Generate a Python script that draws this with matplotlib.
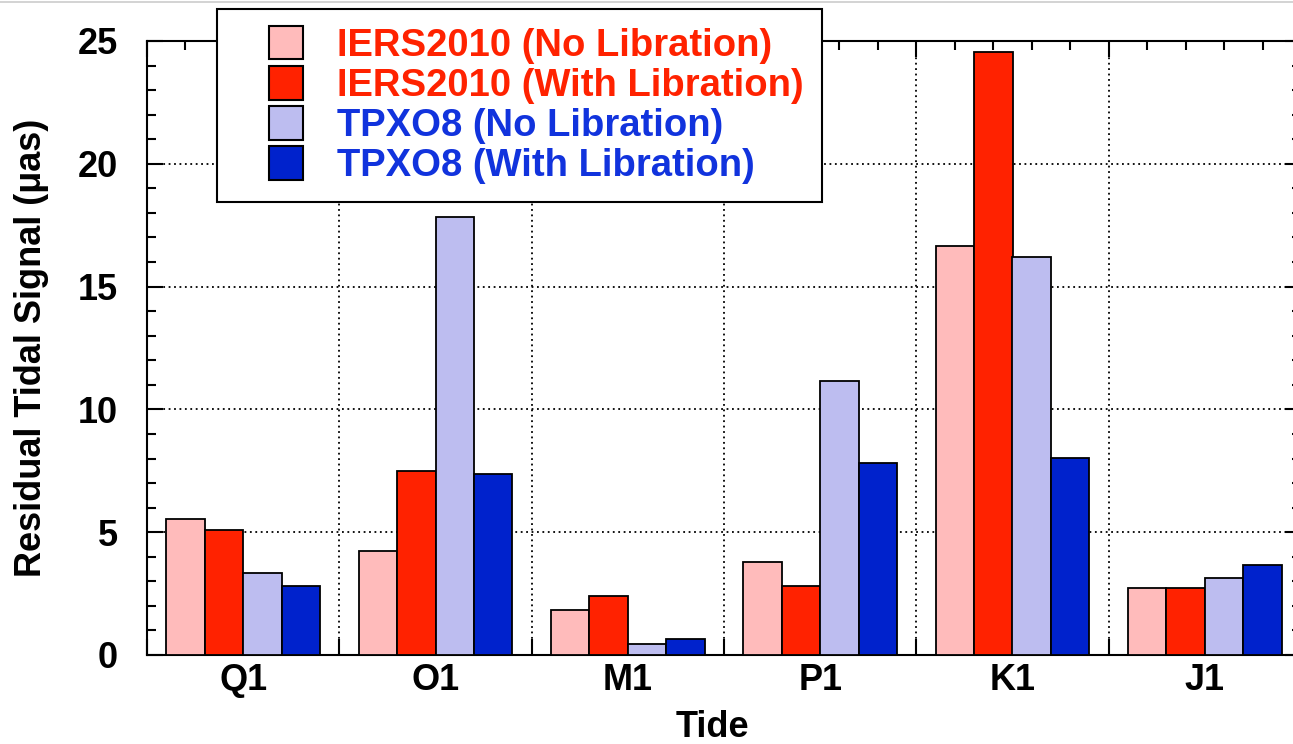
"""
Residual tidal signal per tide, IERS2010 vs TPXO8, with/without libration
"""
import matplotlib
matplotlib.use('Agg')
import matplotlib.pyplot as plt
import numpy as np
from matplotlib.patches import Rectangle
from matplotlib.container import BarContainer
from matplotlib.legend_handler import HandlerPatch, update_from_first_child
from matplotlib.lines import Line2D

# datos
tides = ['Q1', 'O1', 'M1', 'P1', 'K1', 'J1']
iers_no_lib = [5.54, 4.23, 1.83, 3.79, 16.66, 2.73]
iers_with_lib = [5.09, 7.48, 2.40, 2.80, 24.55, 2.73]
tpxo_no_lib = [3.34, 17.85, 0.45, 11.17, 16.20, 3.13]
tpxo_with_lib = [2.81, 7.36, 0.65, 7.82, 8.01, 3.66]

series = [iers_no_lib, iers_with_lib, tpxo_no_lib, tpxo_with_lib]
labels = ['IERS2010 (No Libration)', 'IERS2010 (With Libration)',
          'TPXO8 (No Libration)', 'TPXO8 (With Libration)']
colors = ['#FFBBBB', '#FF2200', '#BDBDF0', '#0022CC']
text_colors = ['#FF2200', '#FF2200', '#1133DD', '#1133DD']

plt.rcParams['font.family'] = ['Liberation Sans', 'DejaVu Sans']
plt.rcParams['font.weight'] = 'bold'

fig = plt.figure(figsize=(12.93, 7.44), dpi=100)
ax = fig.add_axes([147 / 1293, 1 - 655 / 744, (1301 - 147) / 1293, (655 - 41) / 744])

x = np.arange(1, len(tides) + 1)
width = 0.2
offsets = [-0.3, -0.1, 0.1, 0.3]
for vals, off, col, lab in zip(series, offsets, colors, labels):
    ax.bar(x + off, vals, width, color=col, edgecolor='black', linewidth=1.3,
           label=lab, zorder=3)

ax.set_xlim(0.5, len(tides) + 0.5)
ax.set_ylim(0, 25)

# ticks: mayores en los limites de grupo, menores en el centro de cada barra
ax.set_xticks(np.arange(0.5, len(tides) + 1, 1.0))
ax.set_xticks(np.concatenate([x + o for o in offsets]), minor=True)
ax.set_yticks(np.arange(0, 26, 5))
ax.set_yticks(np.arange(0, 26, 1), minor=True)
ax.tick_params(axis='x', which='both', labelbottom=False)
ax.tick_params(which='both', direction='in', top=True, right=True, width=1.5)
ax.tick_params(which='major', length=11.5)
ax.tick_params(which='minor', length=6.5)
ax.tick_params(axis='y', which='major', labelsize=26, pad=21)
for lbl in ax.get_yticklabels():
    lbl.set_fontweight('bold')

for sp in ax.spines.values():
    sp.set_linewidth(1.5)

ax.grid(True, which='major', color='black', linestyle=(0, (1, 2)), linewidth=1.3, zorder=1)
ax.set_axisbelow(True)

# etiquetas de marea en el centro del grupo
sec = ax.secondary_xaxis('bottom')
sec.set_xticks(x, tides)
sec.tick_params(length=0, labelsize=26, pad=6)
sec.spines['bottom'].set_visible(False)
for lbl in sec.get_xticklabels():
    lbl.set_fontweight('bold')

ax.set_ylabel('Residual Tidal Signal (μas)', fontsize=26, fontweight='bold')
ax.yaxis.set_label_coords(-0.0845, 0.5)
ax.set_xlabel('Tide', fontsize=26, fontweight='bold')
ax.xaxis.set_label_coords(0.49, -0.089)


def square_patch(legend, orig_handle, xdescent, ydescent, width, height, fontsize):
    side = 0.88 * fontsize
    return Rectangle((-xdescent + width - side, -ydescent + (height - side) / 2),
                     side, side)


leg = ax.legend(loc='upper left', bbox_to_anchor=(217 / 1293, 1 - 9 / 744),
                bbox_transform=fig.transFigure, borderaxespad=0,
                prop={'size': 27.5, 'weight': 'bold'}, labelcolor=text_colors,
                handlelength=1.77, handleheight=0.88, handletextpad=0.9,
                labelspacing=0.09, borderpad=0.47, fancybox=False, framealpha=1,
                edgecolor='black',
                handler_map={BarContainer: HandlerPatch(patch_func=square_patch,
                                                        update_func=update_from_first_child)})
leg.get_frame().set_linewidth(1.5)
leg.set_zorder(10)
for h in leg.legend_handles:
    h.set_linewidth(1.5)

fig.add_artist(Line2D([0, 1], [1 - 2 / 744, 1 - 2 / 744], color='#CCCCCC', linewidth=1.2))

plt.savefig('out.png', dpi=100)
